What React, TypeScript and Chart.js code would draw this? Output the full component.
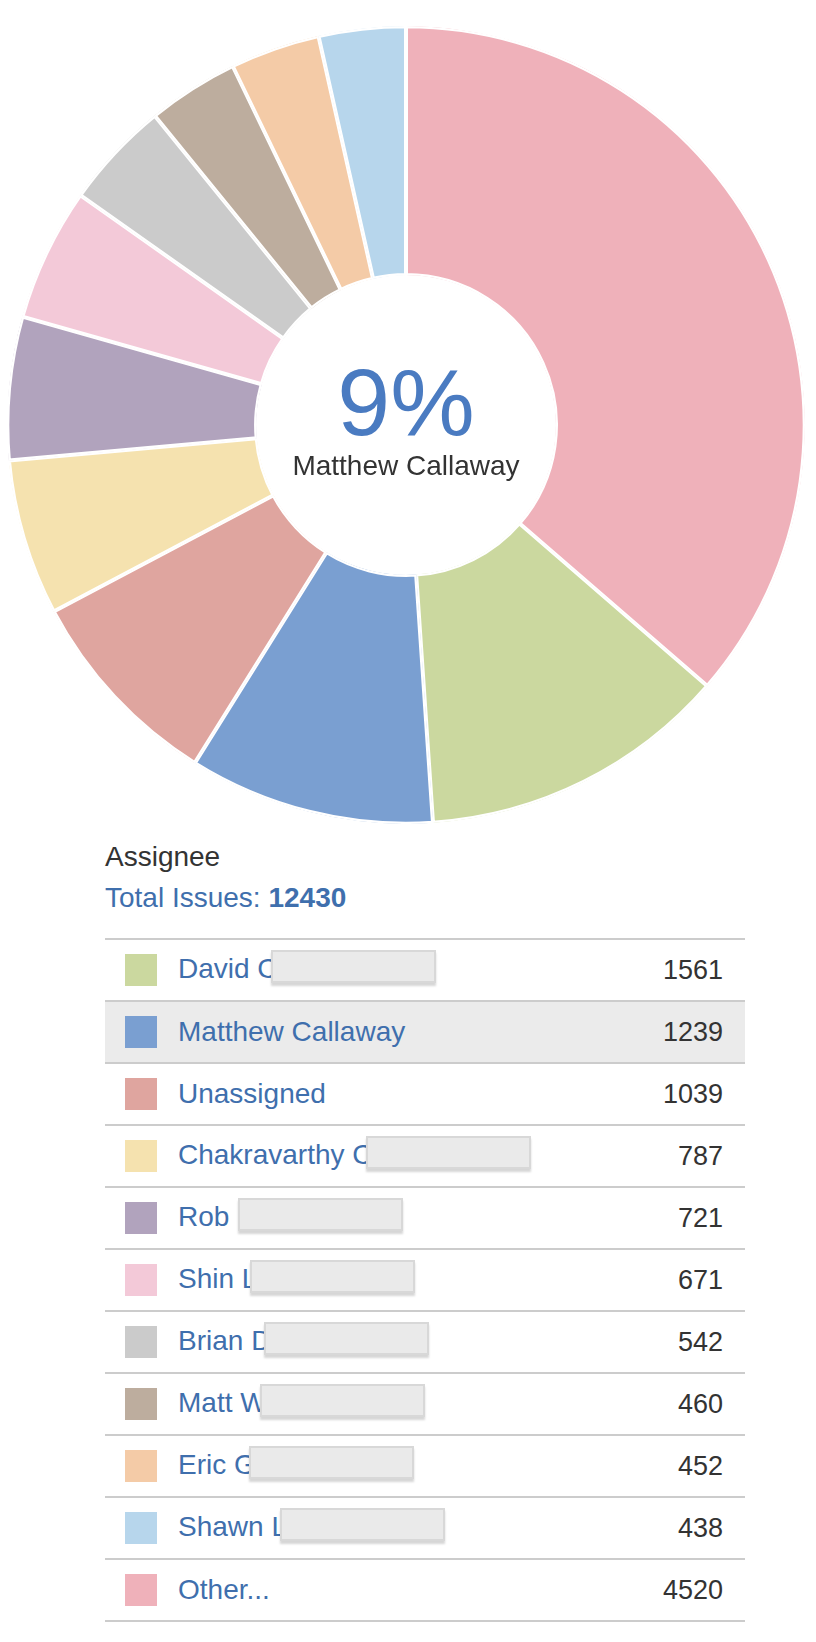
import React, { useEffect, useRef } from "react";
import { Chart, registerables } from "chart.js";

Chart.register(...registerables);

// ---- data ----
const labels = [
  "Other...",
  "David C",
  "Matthew Callaway",
  "Unassigned",
  "Chakravarthy C",
  "Rob I",
  "Shin L",
  "Brian D",
  "Matt W",
  "Eric G",
  "Shawn L",
];
const counts = [4520, 1561, 1239, 1039, 787, 721, 671, 542, 460, 452, 438];
const colors = [
  "#efb1ba",
  "#cbd89f",
  "#7a9fd1",
  "#dfa59f",
  "#f5e2af",
  "#b1a3bd",
  "#f3c9d8",
  "#cbcbcb",
  "#bdad9e",
  "#f4cba7",
  "#b7d6ec",
];
// names partly hidden behind a redaction box in the reference
const redacted = [false, true, false, false, true, true, true, true, true, true, true];
// the table lists "Other..." last
const tableOrder = [1, 2, 3, 4, 5, 6, 7, 8, 9, 10, 0];
const highlightIndex = 2;
const groupTitle = "Assignee";
const totalLabel = "Total Issues:";

const FONT = '"Liberation Sans", Arial, Helvetica, sans-serif';
const BLUE = "#3f6fad";

const centerTextPlugin = {
  id: "centerText",
  afterDraw(chart: any) {
    const arc = chart.getDatasetMeta(0).data[0];
    if (!arc) return;
    const { x, y } = arc;
    const total = counts.reduce((a, b) => a + b, 0);
    const pct = Math.floor((counts[highlightIndex] / total) * 100);
    const ctx = chart.ctx;
    ctx.save();
    ctx.textAlign = "center";
    ctx.textBaseline = "alphabetic";
    ctx.fillStyle = "#4a7bc1";
    ctx.font = `95px ${FONT}`;
    ctx.fillText(`${pct}%`, x, y + 10);
    ctx.fillStyle = "#333333";
    ctx.font = `28px ${FONT}`;
    ctx.fillText(labels[highlightIndex], x, y + 50);
    ctx.restore();
  },
};

export default function App() {
  const canvasRef = useRef<HTMLCanvasElement>(null);

  useEffect(() => {
    if (!canvasRef.current) return;
    const chart = new Chart(canvasRef.current, {
      type: "doughnut",
      data: {
        labels,
        datasets: [
          {
            data: counts,
            backgroundColor: colors,
            borderColor: "#ffffff",
            borderWidth: 2,
            borderAlign: "inner",
            hoverOffset: 0,
          } as any,
        ],
      },
      options: {
        responsive: false,
        animation: false,
        cutout: "37.5%",
        events: [],
        layout: { padding: 0 },
        plugins: {
          legend: { display: false },
          tooltip: { enabled: false },
        },
      },
      plugins: [centerTextPlugin],
    });
    return () => chart.destroy();
  }, []);

  const total = counts.reduce((a, b) => a + b, 0);

  return (
    <div
      style={{
        position: "relative",
        width: 800,
        height: 1626,
        fontFamily: FONT,
      }}
    >
      <canvas
        ref={canvasRef}
        width={798}
        height={798}
        style={{ position: "absolute", left: -1, top: 18, width: 798, height: 798 }}
      />
      <div style={{ position: "absolute", left: 97, top: 835, width: 640 }}>
        <div style={{ fontSize: 28, lineHeight: "28px", color: "#333333" }}>{groupTitle}</div>
      </div>
      <div style={{ position: "absolute", left: 97, top: 876, width: 640 }}>
        <div style={{ fontSize: 28, lineHeight: "28px", color: BLUE }}>
          {totalLabel} <span style={{ fontWeight: "bold" }}>{total}</span>
        </div>
      </div>
      <div
        style={{
          position: "absolute",
          left: 97,
          top: 930,
          width: 640,
          borderTop: "2px solid #cccccc",
        }}
      >
        {tableOrder.map((i) => (
          <div
            key={i}
            style={{
              height: 60,
              borderBottom: "2px solid #cccccc",
              display: "flex",
              alignItems: "center",
              background: i === highlightIndex ? "#ebebeb" : "transparent",
            }}
          >
            <div
              style={{
                width: 32,
                height: 32,
                marginLeft: 20,
                background: colors[i],
                flex: "none",
              }}
            />
            <div
              style={{
                marginLeft: 21,
                fontSize: 28,
                lineHeight: "28px",
                color: BLUE,
                whiteSpace: "nowrap",
              }}
            >
              {labels[i]}
              {redacted[i] && (
                <span
                  style={{
                    display: "inline-block",
                    width: 161,
                    height: 29,
                    marginLeft: -7,
                    verticalAlign: "middle",
                    position: "relative",
                    top: -4,
                    background: "#eaeaea",
                    border: "2px solid #d8d8d8",
                    boxShadow: "0 3px 2px rgba(0,0,0,0.16)",
                  }}
                />
              )}
            </div>
            <div
              style={{
                marginLeft: "auto",
                paddingRight: 22,
                fontSize: 27,
                lineHeight: "27px",
                color: "#333333",
              }}
            >
              {counts[i]}
            </div>
          </div>
        ))}
      </div>
    </div>
  );
}
